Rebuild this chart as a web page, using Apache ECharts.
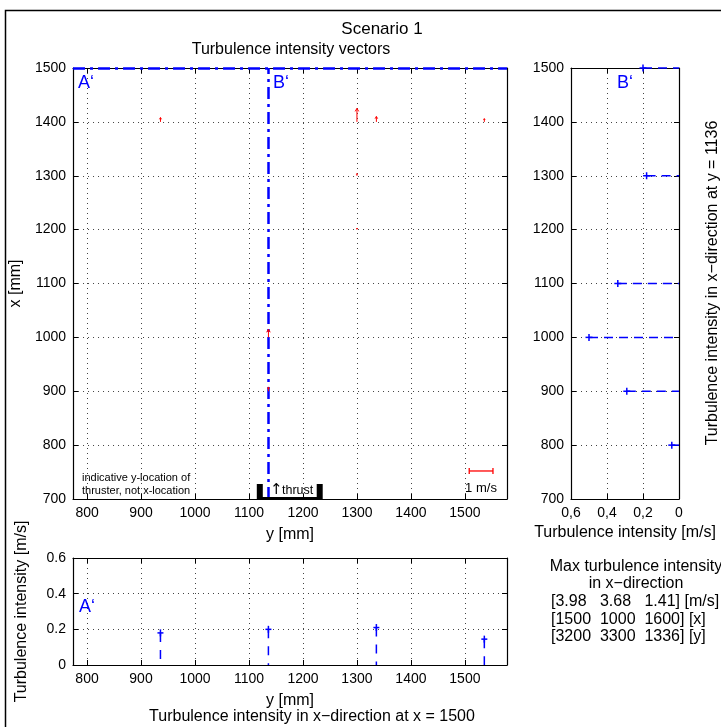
<!DOCTYPE html>
<html>
<head>
<meta charset="utf-8">
<script src="https://cdn.jsdelivr.net/npm/echarts@6/dist/echarts.min.js"></script>
<style>
html, body { margin: 0; padding: 0; background: #fff; }
#chart { width: 721px; height: 727px; }
</style>
</head>
<body>
<div id="chart"></div>
<script>
// tick values
const yTicks = [800, 900, 1000, 1100, 1200, 1300, 1400, 1500];
const yRange = [774, 1578];
const xRange = [700, 1500];
const intensityRange = [0, 0.6];

// red turbulence vectors in the field: y, x, length [mm]
const vecY = [936, 1300, 1336, 1536, 1300, 1300, 1136, 1136];
const vecX = [1400, 1400, 1400, 1400, 1300, 1200, 1000, 900];
const vecLen = [8, 25, 10, 6, 4, 3, 15, 8];

// section lines A' (x = 1500) and B' (y = 1136)
const sectionA = 1500;
const sectionB = 1136;

// profile along B' (right panel)
const profBx = [1500, 1300, 1100, 1000, 900, 800];
const profBv = [0.2, 0.18, 0.34, 0.5, 0.29, 0.04];

// profile along A' (bottom panel)
const profAy = [936, 1136, 1336, 1536];
const profAv = [0.18, 0.2, 0.21, 0.145];

// thruster side walls (y) and scale bar (y from, y to, at x)
const thrustY = [1120, 1231];
const scaleBar = [1508, 1552, 752];

const maxLines = [
    '[3.98   3.68   1.41] [m/s]',
    '[1500  1000  1600] [x]',
    '[3200  3300  1336] [y]'
];

const FONT = 'Liberation Sans, Arial, sans-serif';
const BLUE = '#0000ff';
const RED = '#ff0000';
const gridLine = { show: true, lineStyle: { color: '#444', type: [1, 4], width: 1 } };
const axisLine = { show: true, onZero: false, lineStyle: { color: '#000', width: 1.2 } };
const label = { color: '#000', fontSize: 14, fontFamily: FONT };
const nameStyle = { color: '#000', fontSize: 16, fontFamily: FONT };
const plain = v => String(+v.toFixed(1));
const comma = v => plain(v).replace('.', ',');

function valueAxis(gridIndex, min, max, extra) {
    return Object.assign({
        type: 'value', gridIndex, min, max,
        axisLine,
        axisTick: { show: true, inside: true, length: 5, lineStyle: { color: '#000' } },
        axisLabel: Object.assign({ margin: 7, formatter: plain }, label),
        splitLine: { show: false },
        nameTextStyle: nameStyle,
        nameLocation: 'middle'
    }, extra);
}
function mirror(axis, position) {
    return Object.assign({}, axis, {
        position,
        name: '',
        axisLabel: Object.assign({}, axis.axisLabel, { show: false }),
        splitLine: { show: false }
    });
}

const xMain = valueAxis(0, yRange[0], yRange[1], {
    position: 'bottom',
    axisTick: { show: true, inside: true, length: 5, customValues: yTicks, lineStyle: { color: '#000' } },
    axisLabel: Object.assign({ margin: 7, customValues: yTicks, formatter: plain }, label),
    splitLine: gridLine,
    name: 'y [mm]', nameGap: 28
});
const xRight = valueAxis(1, intensityRange[0], intensityRange[1], {
    position: 'bottom', inverse: true, interval: 0.2,
    axisLabel: Object.assign({ margin: 7, formatter: comma }, label),
    splitLine: gridLine,
    name: 'Turbulence intensity [m/s]', nameGap: 26
});
const xBottom = valueAxis(2, yRange[0], yRange[1], {
    position: 'bottom',
    axisTick: { show: true, inside: true, length: 5, customValues: yTicks, lineStyle: { color: '#000' } },
    axisLabel: Object.assign({ margin: 7, customValues: yTicks, formatter: plain }, label),
    splitLine: gridLine,
    name: 'y [mm]', nameGap: 28
});
const yMain = valueAxis(0, xRange[0], xRange[1], {
    position: 'left', interval: 100, splitLine: gridLine,
    name: 'x [mm]', nameGap: 41
});
const yRight = valueAxis(1, xRange[0], xRange[1], {
    position: 'left', interval: 100, splitLine: gridLine
});
const yBottom = valueAxis(2, intensityRange[0], intensityRange[1], {
    position: 'left', interval: 0.2, splitLine: gridLine,
    name: 'Turbulence intensity [m/s]', nameGap: 43
});

const chart = echarts.init(document.getElementById('chart'));

const txt = (x, y, text, size, extra) => Object.assign({
    type: 'text', x, y, z: 10,
    style: { text, font: size + 'px ' + FONT, fill: '#000', align: 'center', verticalAlign: 'middle' }
}, extra || {});
const leftTxt = (x, y, text, size, fill, family) => ({
    type: 'text', x, y, z: 10,
    style: { text, font: size + 'px ' + (family || FONT), fill: fill || '#000', align: 'left', verticalAlign: 'middle', whiteSpace: 'pre' }
});

chart.setOption({
    animation: false,
    backgroundColor: '#fff',
    textStyle: { fontFamily: FONT },
    grid: [
        { left: 73, top: 68, width: 434, height: 431 },
        { left: 571, top: 68, width: 108, height: 431 },
        { left: 73, top: 558, width: 434, height: 107 }
    ],
    xAxis: [xMain, xRight, xBottom, mirror(xMain, 'top'), mirror(xRight, 'top'), mirror(xBottom, 'top')],
    yAxis: [yMain, yRight, yBottom, mirror(yMain, 'right'), mirror(yRight, 'right'), mirror(yBottom, 'right')],
    graphic: [
        { type: 'rect', shape: { x: 5.5, y: 10.5, width: 800, height: 800 }, style: { fill: null, stroke: '#000', lineWidth: 1.5 }, z: 0 },
        txt(382, 29, 'Scenario 1', 17),
        txt(291, 50, 'Turbulence intensity vectors', 16),
        leftTxt(78, 83, 'A\u2018', 18, BLUE),
        leftTxt(273, 83, 'B\u2018', 18, BLUE),
        leftTxt(617, 83, 'B\u2018', 18, BLUE),
        leftTxt(79, 607, 'A\u2018', 18, BLUE),
        leftTxt(82, 478, 'indicative y-location of', 11),
        leftTxt(82, 491, 'thruster, not x-location', 11),
        leftTxt(270, 490, '\u2191', 15, '#000', '"DejaVu Sans"'),
        leftTxt(282, 491, 'thrust', 12.5),
        txt(481, 488, '1 m/s', 13),
        txt(312, 717, 'Turbulence intensity in x\u2212direction at x = 1500', 16),
        txt(713, 283, 'Turbulence intensity in x\u2212direction at y = 1136', 16, { rotation: Math.PI / 2 }),
        txt(636, 567, 'Max turbulence intensity', 16),
        txt(636, 584, 'in x\u2212direction', 16),
        ...maxLines.map((t, i) => leftTxt(551, 602 + i * 17.5, t, 16))
    ],
    series: [
        {
            // section lines A' and B'
            type: 'line', xAxisIndex: 0, yAxisIndex: 0, data: [],
            markLine: {
                silent: true, symbol: 'none', label: { show: false },
                lineStyle: { color: BLUE, width: 2.5, type: [12, 5, 3, 5] },
                data: [{ yAxis: sectionA }, { xAxis: sectionB }]
            },
            z: 5
        },
        {
            // turbulence intensity vectors
            type: 'custom', xAxisIndex: 0, yAxisIndex: 0, z: 6,
            data: vecY.map((y, i) => [y, vecX[i], vecLen[i]]),
            renderItem(params, api) {
                const p0 = api.coord([api.value(0), api.value(1)]);
                const p1 = api.coord([api.value(0), api.value(1) + api.value(2)]);
                const h = Math.min(3, (p0[1] - p1[1]) * 0.4);
                return {
                    type: 'group', children: [
                        { type: 'line', shape: { x1: p0[0], y1: p0[1], x2: p1[0], y2: p1[1] }, style: { stroke: RED, lineWidth: 1 } },
                        { type: 'polyline', shape: { points: [[p1[0] - h * 0.6, p1[1] + h], [p1[0], p1[1]], [p1[0] + h * 0.6, p1[1] + h]] }, style: { stroke: RED, fill: null, lineWidth: 1 } }
                    ]
                };
            }
        },
        {
            // thruster walls
            type: 'custom', xAxisIndex: 0, yAxisIndex: 0, z: 7,
            data: thrustY.map(y => [y, xRange[0]]),
            renderItem(params, api) {
                const p = api.coord([api.value(0), api.value(1)]);
                const q = api.coord([thrustY[0], xRange[0]]);
                const r = api.coord([thrustY[1], xRange[0]]);
                const children = [{ type: 'rect', shape: { x: p[0] - 3, y: p[1] - 15, width: 6, height: 15 }, style: { fill: '#000' } }];
                if (params.dataIndex === 0) {
                    children.push({ type: 'line', shape: { x1: q[0], y1: q[1] - 1, x2: r[0], y2: r[1] - 1 }, style: { stroke: '#000', lineWidth: 2 } });
                }
                return { type: 'group', children };
            }
        },
        {
            // 1 m/s scale bar
            type: 'custom', xAxisIndex: 0, yAxisIndex: 0, z: 7,
            data: [scaleBar],
            renderItem(params, api) {
                const a = api.coord([api.value(0), api.value(2)]);
                const b = api.coord([api.value(1), api.value(2)]);
                const s = { stroke: RED, lineWidth: 1.3 };
                return {
                    type: 'group', children: [
                        { type: 'line', shape: { x1: a[0], y1: a[1], x2: b[0], y2: b[1] }, style: s },
                        { type: 'line', shape: { x1: a[0], y1: a[1] - 3, x2: a[0], y2: a[1] + 3 }, style: s },
                        { type: 'line', shape: { x1: b[0], y1: b[1] - 3, x2: b[0], y2: b[1] + 3 }, style: s }
                    ]
                };
            }
        },
        {
            // profile along B'
            type: 'custom', xAxisIndex: 1, yAxisIndex: 1, z: 6,
            data: profBx.map((x, i) => [profBv[i], x]),
            renderItem(params, api) {
                const p = api.coord([api.value(0), api.value(1)]);
                const o = api.coord([0, api.value(1)]);
                const solid = { stroke: BLUE, lineWidth: 1.5 };
                return {
                    type: 'group', children: [
                        { type: 'line', shape: { x1: p[0], y1: p[1], x2: o[0], y2: o[1] }, style: { stroke: BLUE, lineWidth: 1.5, lineDash: [9, 6] } },
                        { type: 'line', shape: { x1: p[0] - 3.5, y1: p[1], x2: p[0] + 3.5, y2: p[1] }, style: solid },
                        { type: 'line', shape: { x1: p[0], y1: p[1] - 3.5, x2: p[0], y2: p[1] + 3.5 }, style: solid }
                    ]
                };
            }
        },
        {
            // profile along A'
            type: 'custom', xAxisIndex: 2, yAxisIndex: 2, z: 6,
            data: profAy.map((y, i) => [y, profAv[i]]),
            renderItem(params, api) {
                const p = api.coord([api.value(0), api.value(1)]);
                const o = api.coord([api.value(0), 0]);
                const solid = { stroke: BLUE, lineWidth: 1.5 };
                return {
                    type: 'group', children: [
                        { type: 'line', shape: { x1: p[0], y1: p[1], x2: o[0], y2: o[1] }, style: { stroke: BLUE, lineWidth: 1.5, lineDash: [9, 8] } },
                        { type: 'line', shape: { x1: p[0] - 3, y1: p[1], x2: p[0] + 3, y2: p[1] }, style: solid },
                        { type: 'line', shape: { x1: p[0], y1: p[1] - 3.5, x2: p[0], y2: p[1] + 3.5 }, style: solid }
                    ]
                };
            }
        }
    ]
});
</script>
</body>
</html>
